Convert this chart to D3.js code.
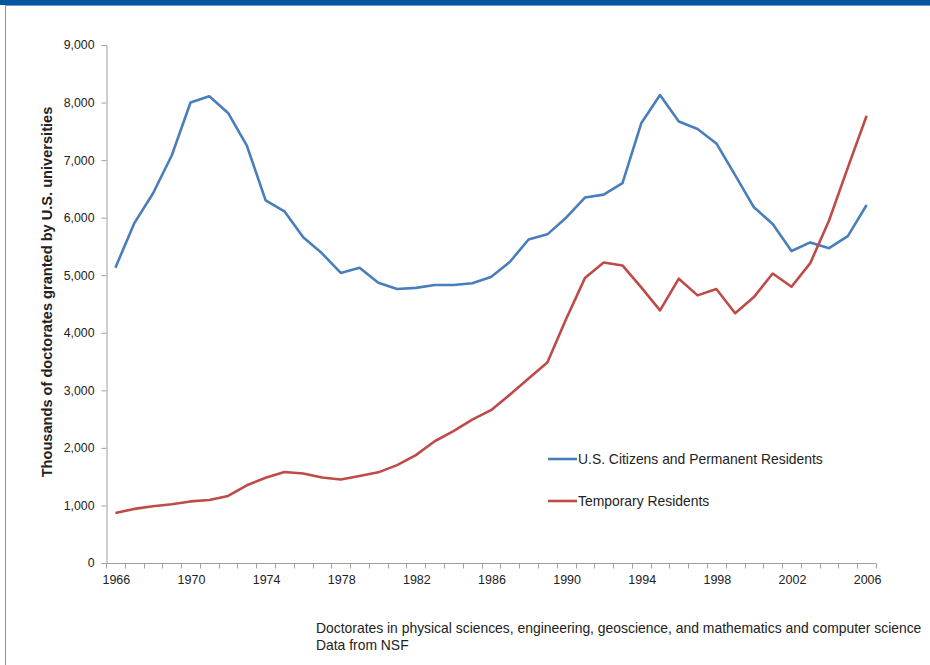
<!DOCTYPE html>
<html>
<head>
<meta charset="utf-8">
<script src="https://cdn.jsdelivr.net/npm/d3@7"></script>
<style>
  body { margin: 0; background: #fff; }
  svg { display: block; font-family: "Liberation Sans", Arial, sans-serif; }
</style>
</head>
<body>
<div id="chart"></div>
<script>
// values
var years = d3.range(1966, 2007);
var citizens = [5130, 5900, 6420, 7080, 8000, 8110, 7820, 7250, 6300, 6110,
                5660, 5380, 5040, 5130, 4870, 4760, 4780, 4830, 4830, 4860,
                4970, 5230, 5620, 5710, 6000, 6350, 6400, 6600, 7640, 8130,
                7670, 7540, 7290, 6740, 6180, 5890, 5420, 5570, 5470, 5680, 6220];
var temporary = [870, 940, 985, 1020, 1070, 1095, 1165, 1350, 1480, 1580,
                 1555, 1485, 1450, 1510, 1575, 1700, 1875, 2115, 2290, 2490,
                 2655, 2925, 3205, 3485, 4240, 4950, 5220, 5170, 4790, 4390,
                 4940, 4650, 4760, 4340, 4620, 5030, 4800, 5210, 5950, 6870, 7770];
var yTicks = [0, 1000, 2000, 3000, 4000, 5000, 6000, 7000, 8000, 9000];
var series = [
  {name: "U.S. Citizens and Permanent Residents", values: citizens, color: "#4a7ebb"},
  {name: "Temporary Residents", values: temporary, color: "#be4b48"}
];

var width = 930, height = 665;
var margin = {top: 45, left: 106, right: 54, bottom: 102};

var svg = d3.select("#chart").append("svg")
  .attr("width", width)
  .attr("height", height);

// frame
svg.append("rect")
  .attr("x", 5.5).attr("y", 5.5)
  .attr("width", width + 10).attr("height", height + 10)
  .attr("fill", "none").attr("stroke", "#6a9ad0").attr("stroke-width", 1);
svg.append("rect")
  .attr("x", 0).attr("y", 0).attr("width", width).attr("height", 5)
  .attr("fill", "#02579e");

var x = d3.scaleBand()
  .domain(years)
  .range([margin.left, width - margin.right]);

var y = d3.scaleLinear()
  .domain([0, 9000])
  .range([height - margin.bottom, margin.top]);

var axisColor = "#a0a0a0";

// y axis
var yAxis = svg.append("g")
  .attr("transform", "translate(" + (margin.left + 0.5) + ",0)")
  .call(d3.axisLeft(y).tickValues(yTicks).tickSize(5).tickPadding(7).tickFormat(d3.format(",")));
yAxis.selectAll("path, line").attr("stroke", axisColor);
yAxis.selectAll("text").attr("font-size", 12.3).attr("fill", "#222")
  .attr("font-family", "Liberation Sans, Arial, sans-serif");

// x axis: ticks between categories, labels every 4 years
var xAxisG = svg.append("g")
  .attr("transform", "translate(0," + (y(0) + 0.5) + ")");
xAxisG.append("line")
  .attr("x1", margin.left).attr("x2", width - margin.right)
  .attr("stroke", axisColor);
xAxisG.selectAll(".tick")
  .data(years.concat([2007]))
  .enter().append("line")
  .attr("x1", function(d) { return Math.round(d === 2007 ? x.range()[1] : x(d)) + 0.5; })
  .attr("x2", function(d) { return Math.round(d === 2007 ? x.range()[1] : x(d)) + 0.5; })
  .attr("y1", 0).attr("y2", 5)
  .attr("stroke", axisColor);
xAxisG.selectAll(".lbl")
  .data(years.filter(function(d) { return (d - 1966) % 4 === 0; }))
  .enter().append("text")
  .attr("x", function(d) { return x(d) + x.bandwidth() / 2 + 1; })
  .attr("y", 20)
  .attr("text-anchor", "middle")
  .attr("font-size", 12.5)
  .attr("fill", "#222")
  .text(function(d) { return d; });

// y axis title
svg.append("text")
  .attr("transform", "translate(52," + 292 + ") rotate(-90)")
  .attr("text-anchor", "middle")
  .attr("font-size", 14.6)
  .attr("font-weight", "bold")
  .attr("fill", "#222")
  .text("Thousands of doctorates granted by U.S. universities");

// lines
var line = d3.line()
  .x(function(d, i) { return x(years[i]) + x.bandwidth() / 2; })
  .y(function(d) { return y(d); });

svg.selectAll(".series")
  .data(series)
  .enter().append("path")
  .attr("class", "series")
  .attr("d", function(d) { return line(d.values); })
  .attr("fill", "none")
  .attr("stroke", function(d) { return d.color; })
  .attr("stroke-width", 2.6)
  .attr("stroke-linejoin", "round");

// legend
var legend = svg.selectAll(".legend")
  .data(series)
  .enter().append("g")
  .attr("class", "legend")
  .attr("transform", function(d, i) { return "translate(548," + (459 + i * 42) + ")"; });
legend.append("line")
  .attr("x1", 0).attr("x2", 29)
  .attr("stroke", function(d) { return d.color; })
  .attr("stroke-width", 2.6);
legend.append("text")
  .attr("x", 30).attr("y", 5)
  .attr("font-size", 13.9)
  .attr("fill", "#222")
  .text(function(d) { return d.name; });

// caption
svg.append("text")
  .attr("x", 316).attr("y", 633)
  .attr("font-size", 13.9)
  .attr("fill", "#222")
  .text("Doctorates in physical sciences, engineering, geoscience, and mathematics and computer science");
svg.append("text")
  .attr("x", 316).attr("y", 650)
  .attr("font-size", 13.9)
  .attr("fill", "#222")
  .text("Data from NSF");
</script>
</body>
</html>
